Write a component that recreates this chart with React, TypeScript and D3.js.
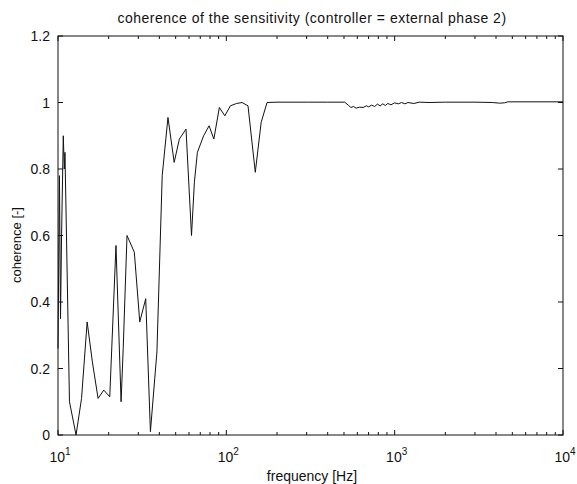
import React from "react";
import * as d3 from "d3";

const freq = [10, 10.2, 10.35, 10.5, 10.75, 10.9, 11.0, 11.7, 12.8, 13.8, 14.9, 16.0, 17.3, 18.7, 20.3, 22.1, 23.7, 24.4, 25.7, 28.4, 30.6, 33.2, 35.4, 38.7, 41.6, 45.0, 49.0, 52.6, 57.6, 62.1, 64.6, 67.3, 73.3, 79.0, 84.3, 90.9, 98.0, 105.7, 115, 124, 134.5, 148.6, 161, 174.5, 200, 300, 400, 505, 530, 550, 570, 590, 620, 650, 680, 700, 730, 760, 790, 820, 850, 880, 910, 950, 1000, 1050, 1100, 1150, 1200, 1300, 1400, 1600, 2000, 3000, 3800, 4200, 4500, 4700, 10000];
const coherence = [0.26, 0.78, 0.35, 0.6, 0.9, 0.8, 0.85, 0.1, 0.0, 0.11, 0.34, 0.22, 0.11, 0.135, 0.115, 0.57, 0.1, 0.26, 0.6, 0.55, 0.34, 0.41, 0.01, 0.25, 0.78, 0.955, 0.82, 0.89, 0.92, 0.6, 0.76, 0.85, 0.9, 0.93, 0.89, 0.985, 0.96, 0.99, 0.997, 1.0, 0.99, 0.79, 0.94, 1.0, 1.001, 1.001, 1.001, 1.001, 0.992, 0.985, 0.988, 0.983, 0.986, 0.985, 0.99, 0.987, 0.992, 0.988, 0.995, 0.99, 0.996, 0.991, 0.997, 0.993, 0.999, 0.996, 1.0, 0.996, 1.0, 0.997, 1.001, 1.0, 1.001, 1.001, 1.0, 0.998, 0.999, 1.002, 1.002];
const yTicks = [0, 0.2, 0.4, 0.6, 0.8, 1, 1.2];
const xDecades = [1, 2, 3, 4];

const title = "coherence of the sensitivity (controller = external phase 2)";
const xLabel = "frequency [Hz]";
const yLabel = "coherence [-]";

export default function App() {
  const W = 577, H = 484;
  const L = 58, R = 563, T = 36, B = 435;
  const x = d3.scaleLog().domain([10, 10000]).range([L, R]);
  const y = d3.scaleLinear().domain([0, 1.2]).range([B, T]);
  const line = d3.line<number>().x((_, i) => x(freq[i])).y((d) => y(d));
  const minor: number[] = [];
  for (let e = 1; e < 4; e++) for (let m = 2; m <= 9; m++) minor.push(m * Math.pow(10, e));
  const font = "'Liberation Sans', Arial, sans-serif";
  return (
    <svg width={W} height={H} style={{ position: "absolute", left: 0, top: 0, background: "#fff" }} fontFamily={font}>
      <rect x={0} y={0} width={W} height={H} fill="#fff" />
      <text x={312} y={23} textAnchor="middle" fontSize={14} letterSpacing={0.5} fill="#111">{title}</text>
      {yTicks.map((t) => (
        <g key={"y" + t}>
          <line x1={L} x2={L + 5} y1={y(t)} y2={y(t)} stroke="#111" />
          <line x1={R} x2={R - 5} y1={y(t)} y2={y(t)} stroke="#111" />
          <text x={50} y={y(t) + 5} textAnchor="end" fontSize={14} fill="#111">{String(t)}</text>
        </g>
      ))}
      {xDecades.map((e) => (
        <g key={"x" + e}>
          <line x1={x(Math.pow(10, e))} x2={x(Math.pow(10, e))} y1={B} y2={B - 5} stroke="#111" />
          <line x1={x(Math.pow(10, e))} x2={x(Math.pow(10, e))} y1={T} y2={T + 5} stroke="#111" />
          <text x={x(Math.pow(10, e)) + 2} y={462} textAnchor="middle" fontSize={14} fill="#111">
            10<tspan dy={-7} fontSize={10}>{e}</tspan>
          </text>
        </g>
      ))}
      {minor.map((m) => (
        <g key={"m" + m}>
          <line x1={x(m)} x2={x(m)} y1={B} y2={B - 3} stroke="#111" />
          <line x1={x(m)} x2={x(m)} y1={T} y2={T + 3} stroke="#111" />
        </g>
      ))}
      <rect x={L} y={T} width={R - L} height={B - T} fill="none" stroke="#111" strokeWidth={1} />
      <path d={line(coherence) || ""} fill="none" stroke="#111" strokeWidth={1} />
      <text x={312} y={481} textAnchor="middle" fontSize={14} fill="#111">{xLabel}</text>
      <text transform={`translate(21,245) rotate(-90)`} textAnchor="middle" fontSize={13} fill="#111">{yLabel}</text>
    </svg>
  );
}
